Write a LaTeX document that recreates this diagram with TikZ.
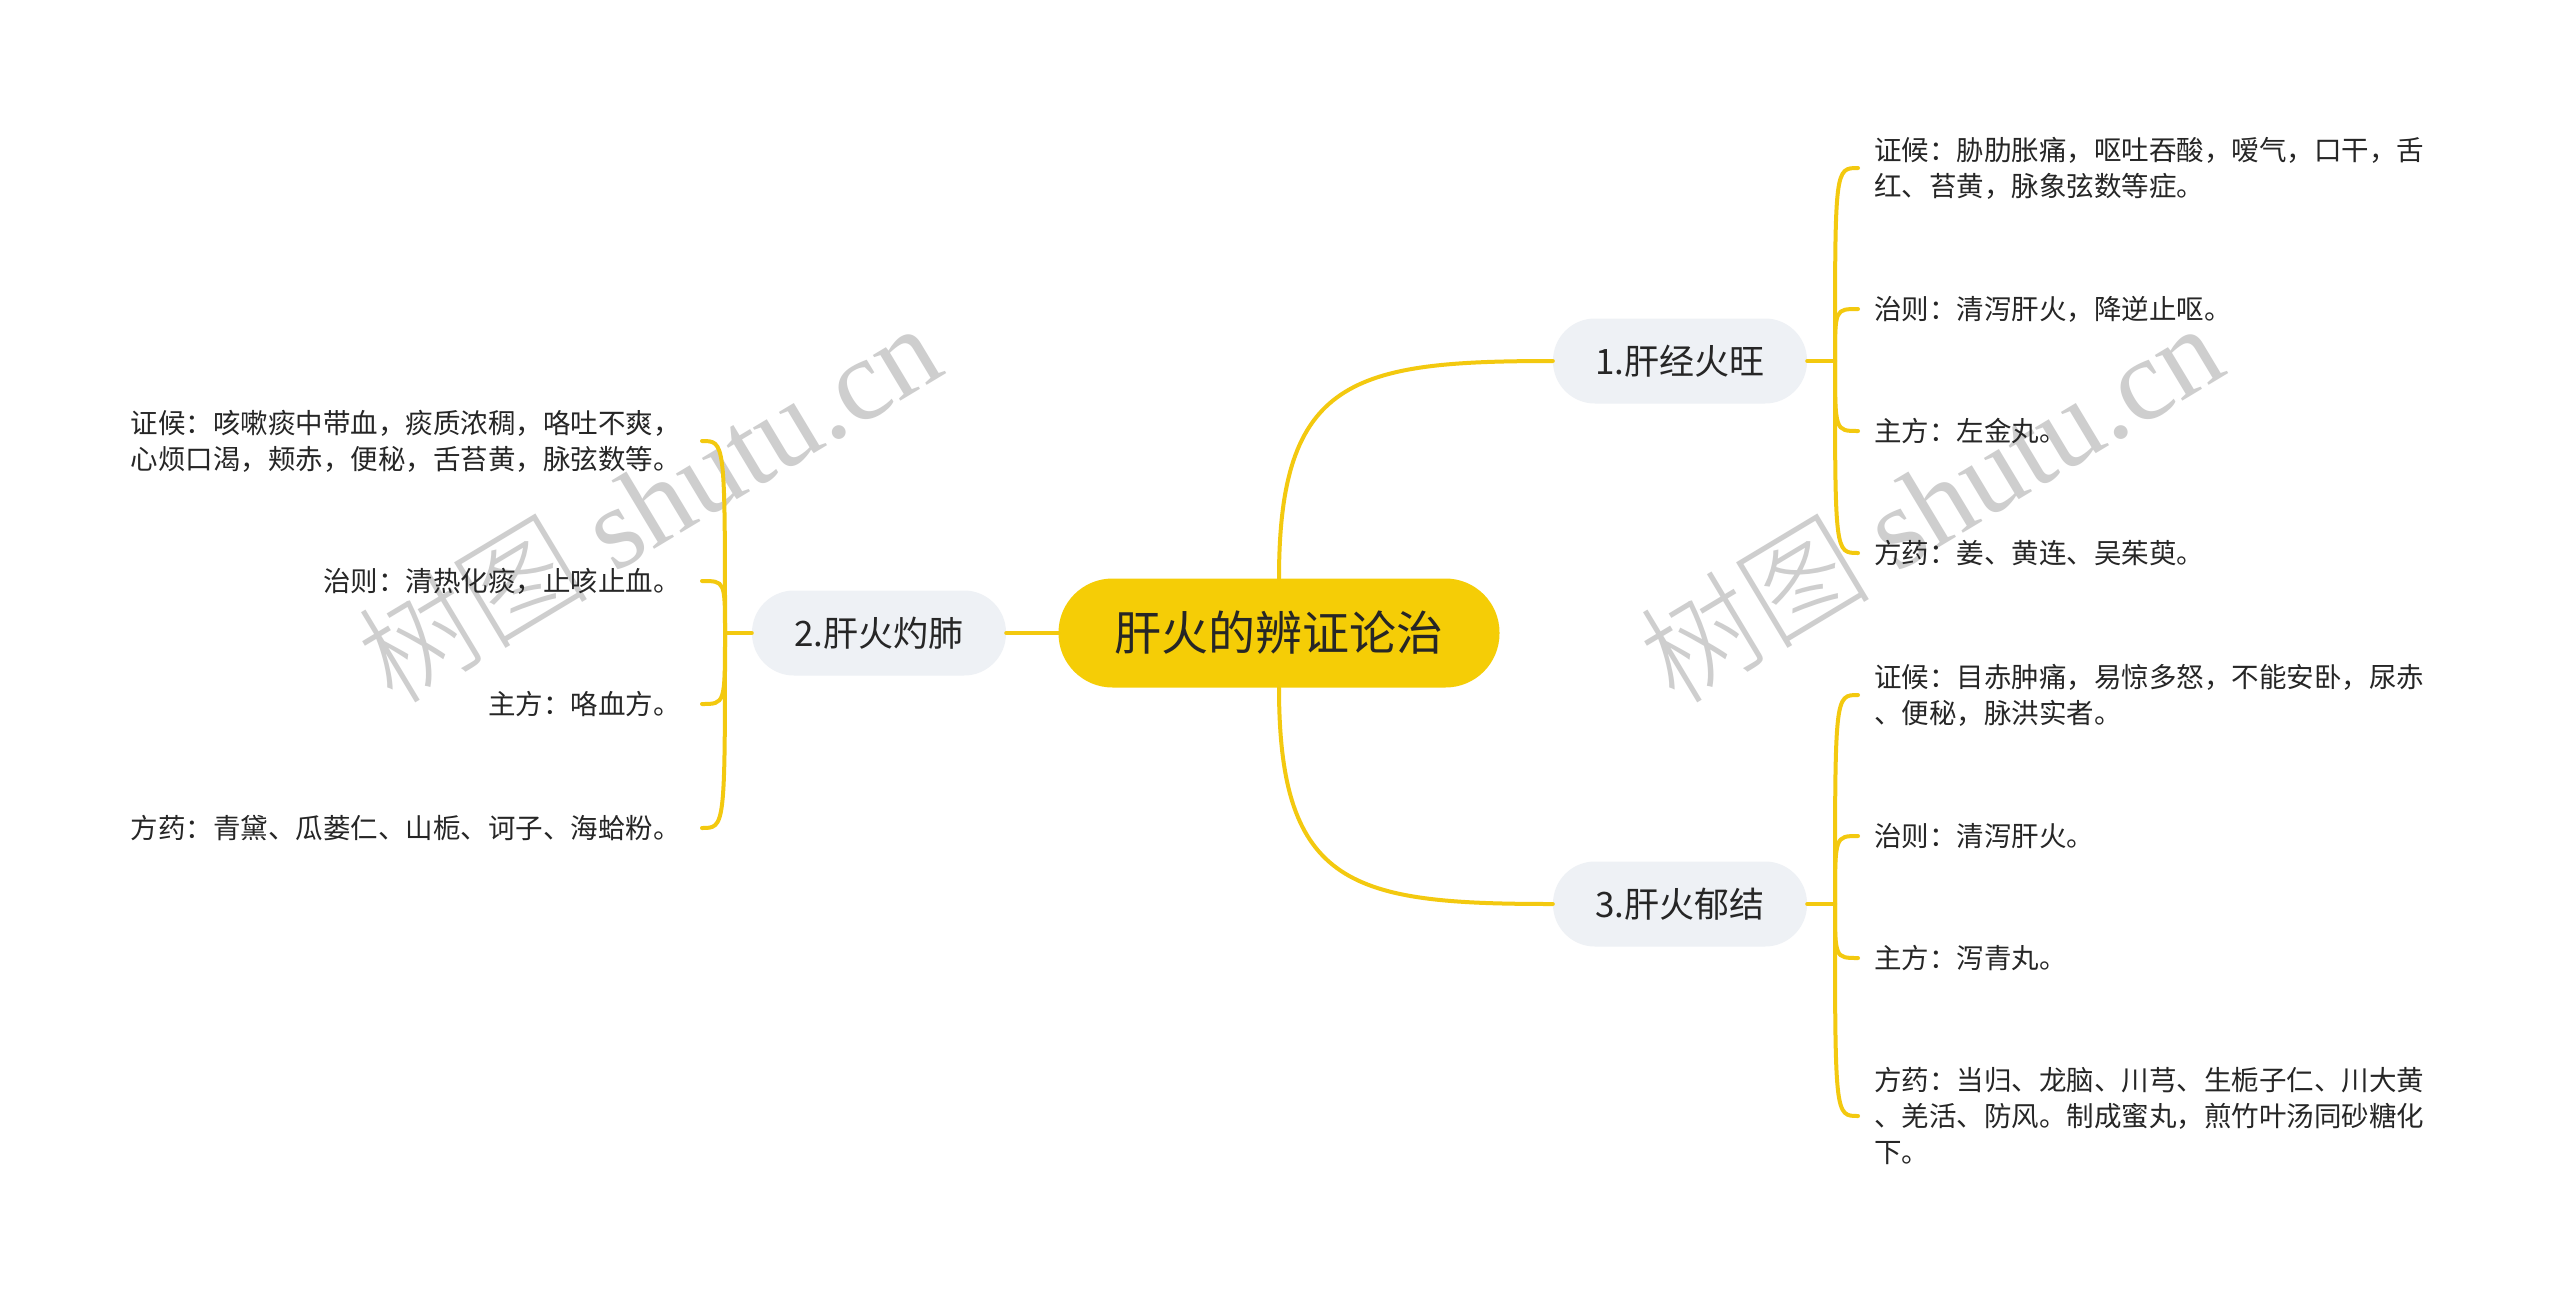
\documentclass[tikz,border=0pt]{standalone}
\usepackage{fontspec}
\setmainfont{Noto Sans CJK SC}
\newfontfamily\wmcjk{Noto Sans CJK SC Light}
\newfontfamily\wmlat{Liberation Serif}
\definecolor{rootY}{HTML}{F5CD06}
\definecolor{lineY}{HTML}{F3C90F}
\definecolor{subG}{HTML}{EEF1F5}
\definecolor{txt}{HTML}{262626}
\definecolor{wmgray}{HTML}{CECECE}
\begin{document}
\begin{tikzpicture}[x=1pt,y=-1pt,
  conn/.style={draw=lineY, line width=4pt, line cap=round},
  rootbox/.style={fill=rootY, rounded corners=54pt, minimum width=441pt, minimum height=109pt, inner sep=0pt, font=\fontsize{47}{56}\selectfont, text=txt},
  subbox/.style={fill=subG, rounded corners=42pt, minimum width=254pt, minimum height=85pt, inner sep=0pt, font=\fontsize{35}{42}\selectfont, text=txt},
  leafR/.style={anchor=west, align=left, inner sep=0pt, font=\fontsize{27.5}{36}\selectfont, text=txt},
  leafL/.style={anchor=east, align=left, inner sep=0pt, font=\fontsize{27.5}{36}\selectfont, text=txt},
  wmark/.style={text=wmgray, rotate=31, inner sep=0pt, font=\fontsize{116}{120}\selectfont}
]
\useasboundingbox (0,0) rectangle (2560,1302);
\fill[white] (0,0) rectangle (2560,1302);

% watermarks
\node[wmark] (wm1) at (648,502) {\wmcjk 树图\ \wmlat shutu.cn};
\node[wmark] (wm2) at (1930,502) {\wmcjk 树图\ \wmlat shutu.cn};

% main nodes
\node[rootbox] (c) at (1279,633) {肝火的辨证论治};
\node[subbox] (n1) at (1680,361) {1.肝经火旺};
\node[subbox] (n2) at (879,633) {2.肝火灼肺};
\node[subbox] (n3) at (1680,904) {3.肝火郁结};

% leaves of branch 1
\node[leafR] (c1a) at (1874,168) {证候：胁肋胀痛，呕吐吞酸，嗳气，口干，舌\\红、苔黄，脉象弦数等症。};
\node[leafR] (c1b) at (1874,309) {治则：清泻肝火，降逆止呕。};
\node[leafR] (c1c) at (1874,431) {主方：左金丸。};
\node[leafR] (c1d) at (1874,553) {方药：姜、黄连、吴茱萸。};

% leaves of branch 3
\node[leafR] (c3a) at (1874,695) {证候：目赤肿痛，易惊多怒，不能安卧，尿赤\\、便秘，脉洪实者。};
\node[leafR] (c3b) at (1874,836) {治则：清泻肝火。};
\node[leafR] (c3c) at (1874,958) {主方：泻青丸。};
\node[leafR] (c3d) at (1874,1116) {方药：当归、龙脑、川芎、生栀子仁、川大黄\\、羌活、防风。制成蜜丸，煎竹叶汤同砂糖化\\下。};

% leaves of branch 2
\node[leafL] (c2a) at (681,441) {证候：咳嗽痰中带血，痰质浓稠，咯吐不爽，\\心烦口渴，颊赤，便秘，舌苔黄，脉弦数等。};
\node[leafL] (c2b) at (681,581) {治则：清热化痰，止咳止血。};
\node[leafL] (c2c) at (681,704) {主方：咯血方。};
\node[leafL] (c2d) at (681,828) {方药：青黛、瓜蒌仁、山栀、诃子、海蛤粉。};

% hubs
\coordinate (h1) at (1835,361);
\coordinate (h3) at (1835,904);
\coordinate (h2) at (725,633);

% root connectors
\draw[conn] (c.north) .. controls +(0,-200) and +(-200,0) .. (n1.west);
\draw[conn] (c.south) .. controls +(0,200) and +(-200,0) .. (n3.west);
\draw[conn] (c.west) -- (n2.east);

% branch 1 connectors
\draw[conn] (n1.east) -- (h1);
\foreach \k in {c1a,c1b,c1c,c1d}
  \draw[conn] (h1) .. controls (h1 |- \k.west) .. ([xshift=-16pt]\k.west);
% branch 3 connectors
\draw[conn] (n3.east) -- (h3);
\foreach \k in {c3a,c3b,c3c,c3d}
  \draw[conn] (h3) .. controls (h3 |- \k.west) .. ([xshift=-16pt]\k.west);
% branch 2 connectors
\draw[conn] (n2.west) -- (h2);
\foreach \k in {c2a,c2b,c2c,c2d}
  \draw[conn] (h2) .. controls (h2 |- \k.east) .. ([xshift=21pt]\k.east);
\end{tikzpicture}
\end{document}
